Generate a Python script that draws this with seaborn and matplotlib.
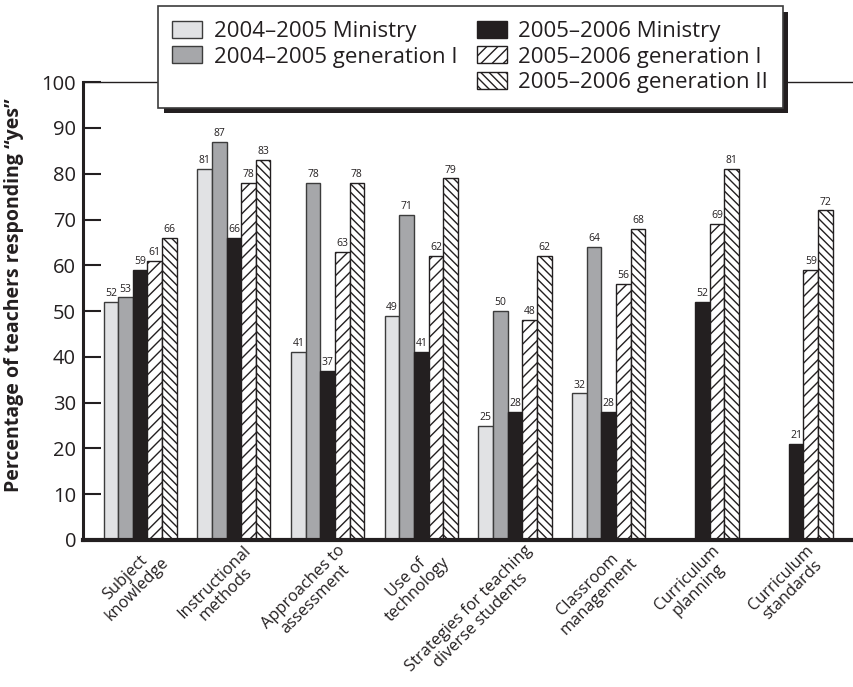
import matplotlib
matplotlib.use("Agg")
import matplotlib.pyplot as plt
import matplotlib.patheffects as pe
import matplotlib.transforms as mtransforms
from matplotlib.patches import Patch
import seaborn as sns
import pandas as pd
import numpy as np

# Datos (porcentaje de docentes que responden "sí")
categorias = [
    "Subject\nknowledge",
    "Instructional\nmethods",
    "Approaches to\nassessment",
    "Use of\ntechnology",
    "Strategies for teaching\ndiverse students",
    "Classroom\nmanagement",
    "Curriculum\nplanning",
    "Curriculum\nstandards",
]
series = [
    "2004–2005 Ministry",
    "2004–2005 generation I",
    "2005–2006 Ministry",
    "2005–2006 generation I",
    "2005–2006 generation II",
]
ministerio_0405 = [52, 81, 41, 49, 25, 32, np.nan, np.nan]
generacion1_0405 = [53, 87, 78, 71, 50, 64, np.nan, np.nan]
ministerio_0506 = [59, 66, 37, 41, 28, 28, 52, 21]
generacion1_0506 = [61, 78, 63, 62, 48, 56, 69, 59]
generacion2_0506 = [66, 83, 78, 79, 62, 68, 81, 72]

valores = [ministerio_0405, generacion1_0405, ministerio_0506,
           generacion1_0506, generacion2_0506]

df = pd.DataFrame({
    "categoria": categorias * len(series),
    "serie": [s for s in series for _ in categorias],
    "valor": [v for fila in valores for v in fila],
})

colores = ["#e1e2e4", "#a6a7aa", "#231f20", "white", "white"]
bordes = ["#3c3c3c", "#3c3c3c", "#231f20", "#231f20", "#231f20"]
tramas = ["", "", "", "///", "\\\\\\\\"]

sns.set_style("ticks")
plt.rcParams["font.family"] = ["Open Sans", "DejaVu Sans"]
plt.rcParams["hatch.linewidth"] = 1.0
plt.rcParams["hatch.color"] = "#231f20"

fig = plt.figure(figsize=(8.54, 6.87), dpi=100)
ax = fig.add_axes([0.0972, 0.214, 0.902, 0.6664])

sns.barplot(data=df, x="categoria", y="valor", hue="serie", hue_order=series,
            order=categorias, palette=colores, saturation=1, width=0.78,
            gap=0, legend=False, errorbar=None, ax=ax)

for i, cont in enumerate(ax.containers):
    for barra in cont:
        barra.set_edgecolor(bordes[i])
        barra.set_linewidth(1.0)
        barra.set_hatch(tramas[i])
    ax.bar_label(cont, fmt="%d", fontsize=7.5, padding=2, color="#231f20")

ax.set_xlim(-0.61, 7.61)
ax.set_ylim(0, 100)
ax.set_yticks(range(0, 101, 10))
ax.set_xlabel("")
ax.set_ylabel("Percentage of teachers responding “yes”", fontsize=14,
              fontweight="bold", color="#231f20")
ax.yaxis.set_label_coords(-0.077, 0.535)

ax.tick_params(axis="y", direction="in", length=13, width=1.5,
               labelsize=14.5, pad=5, colors="#231f20")
ax.tick_params(axis="x", length=0, labelsize=11.8, pad=2, colors="#231f20")
ax.set_xticks(range(len(categorias)))
ax.set_xticklabels(categorias, rotation=45, ha="right", va="top",
                   rotation_mode="anchor", multialignment="center",
                   linespacing=1.05)
desplazamiento = mtransforms.ScaledTranslation(0.09, 0, fig.dpi_scale_trans)
for etiqueta in ax.get_xticklabels():
    etiqueta.set_transform(etiqueta.get_transform() + desplazamiento)

ax.spines["right"].set_visible(False)
ax.spines["top"].set_linewidth(1.0)
ax.spines["left"].set_linewidth(2.2)
ax.spines["bottom"].set_linewidth(3.0)
for lado in ["top", "left", "bottom"]:
    ax.spines[lado].set_color("#231f20")

# Leyenda en dos columnas, con hueco para que la primera tenga dos entradas
manejadores = [Patch(facecolor=colores[i], edgecolor=bordes[i], hatch=tramas[i],
                     linewidth=1.0) for i in range(len(series))]
vacio = Patch(facecolor="none", edgecolor="none")
handles = manejadores[:2] + [vacio] + manejadores[2:]
etiquetas = series[:2] + [""] + series[2:]

leg = fig.legend(handles, etiquetas, ncol=2, loc="upper left",
                 bbox_to_anchor=(0.185, 0.991), bbox_transform=fig.transFigure,
                 frameon=True, fancybox=False, framealpha=1, fontsize=16,
                 handlelength=1.35, handleheight=0.8, columnspacing=0.9,
                 labelspacing=0.2, borderpad=0.65, handletextpad=0.5,
                 borderaxespad=0)
marco = leg.get_frame()
marco.set_edgecolor("#3c3c3c")
marco.set_linewidth(1.2)
marco.set_path_effects([pe.SimplePatchShadow(offset=(4, -4),
                                             shadow_rgbFace="#231f20", alpha=1),
                        pe.Normal()])
for t in leg.get_texts():
    t.set_color("#231f20")

fig.savefig("out.png", dpi=100)
